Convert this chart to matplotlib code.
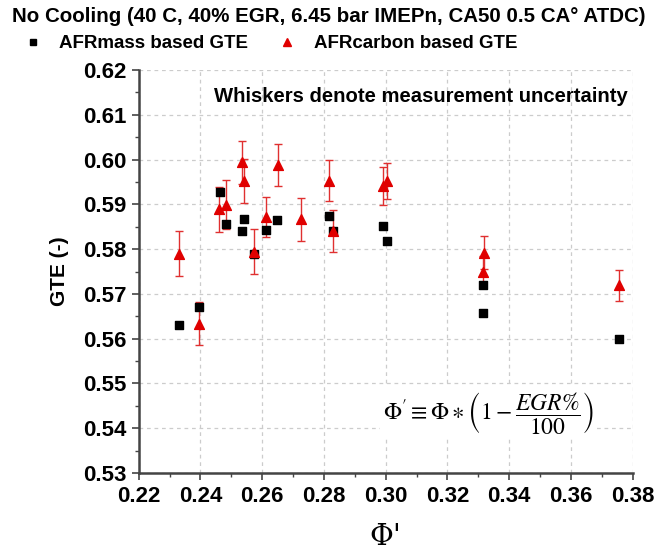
import matplotlib
matplotlib.use("Agg")
import matplotlib.pyplot as plt
from matplotlib.ticker import MultipleLocator

plt.rcParams["font.family"] = ["Liberation Sans", "DejaVu Sans"]
plt.rcParams["mathtext.fontset"] = "stix"

TITLE = "No Cooling (40 C, 40% EGR, 6.45 bar IMEPn, CA50 0.5 CA\u00b0 ATDC)"

# AFRmass based GTE (black squares)
mass_phi = [0.2331, 0.2395, 0.2463, 0.2484, 0.2536, 0.2541, 0.2573, 0.2611,
            0.2648, 0.2817, 0.2830, 0.2992, 0.3005, 0.3314, 0.3314, 0.3757]
mass_gte = [0.5630, 0.5670, 0.5927, 0.5855, 0.5841, 0.5868, 0.5790, 0.5843,
            0.5866, 0.5875, 0.5841, 0.5852, 0.5818, 0.5720, 0.5657, 0.5599]

# AFRcarbon based GTE (red triangles) with uncertainty
carb_phi = [0.2331, 0.2395, 0.2460, 0.2484, 0.2536, 0.2541, 0.2573, 0.2611, 0.2652,
            0.2725, 0.2817, 0.2830, 0.2992, 0.3005, 0.3319, 0.3316, 0.3757]
carb_gte = [0.5790, 0.5633, 0.5889, 0.5899, 0.5994, 0.5952, 0.5794, 0.5871, 0.5988,
            0.5867, 0.5953, 0.5841, 0.5941, 0.5952, 0.5792, 0.5750, 0.5719]
carb_err = [0.0050, 0.0048, 0.0050, 0.0055, 0.0048, 0.0050, 0.0050, 0.0045, 0.0047,
            0.0048, 0.0045, 0.0047, 0.0043, 0.0040, 0.0037, 0.0035, 0.0035]

fig = plt.figure(figsize=(6.58, 5.59), dpi=100)
ax = fig.add_axes([0.2108, 0.1538, 0.7508, 0.7210])

ax.errorbar(carb_phi, carb_gte, yerr=carb_err, fmt="none", ecolor="#e03030",
            elinewidth=1.0, capsize=3, capthick=1.0, zorder=3)
ax.scatter(mass_phi, mass_gte, marker="s", s=36, color="black", zorder=4)
ax.scatter(carb_phi, carb_gte, marker="^", s=50, color="#e00000", zorder=5)

ax.set_xlim(0.22, 0.38)
ax.set_ylim(0.53, 0.62)
ax.xaxis.set_major_locator(MultipleLocator(0.02))
ax.xaxis.set_minor_locator(MultipleLocator(0.01))
ax.yaxis.set_major_locator(MultipleLocator(0.01))
ax.yaxis.set_minor_locator(MultipleLocator(0.005))
ax.xaxis.set_major_formatter(lambda v, p: f"{v:.2f}")
ax.yaxis.set_major_formatter(lambda v, p: f"{v:.2f}")
ax.tick_params(axis="both", which="major", labelsize=16, length=5, width=1.2,
               color="#444444", pad=4)
ax.tick_params(axis="both", which="minor", length=3, width=1.0, color="#444444")
for lbl in ax.get_xticklabels() + ax.get_yticklabels():
    lbl.set_fontweight("bold")

ax.grid(True, which="major", linestyle=(0, (3, 3)), color="#cccccc", linewidth=0.9)
ax.set_axisbelow(True)
for side in ["top", "right"]:
    ax.spines[side].set_visible(False)
for side in ["left", "bottom"]:
    ax.spines[side].set_linewidth(1.8)
    ax.spines[side].set_color("#444444")

ax.set_ylabel("GTE (-)", fontsize=15, fontweight="bold", labelpad=10)
ax.set_xlabel("\u03a6'", fontsize=21, family="DejaVu Serif", labelpad=12)

ax.text(0.99, 0.935, "Whiskers denote measurement uncertainty", transform=ax.transAxes,
        ha="right", va="center", fontsize=14.6, fontweight="bold")
ax.text(0.4945, 0.149, r"$\Phi' \equiv \Phi \ast \left(1 - \dfrac{EGR\%}{100}\right)$",
        transform=ax.transAxes, ha="left", va="center", fontsize=17,
        bbox=dict(facecolor="white", edgecolor="none", pad=2))

fig.text(0.018, 0.971, TITLE, ha="left", va="center", fontsize=14.8, fontweight="bold")

fig.legend(handles=[
    plt.Line2D([], [], marker="s", color="black", linestyle="none", markersize=5),
    plt.Line2D([], [], marker="^", color="#e00000", linestyle="none", markersize=6),
], labels=["AFRmass based GTE", "AFRcarbon based GTE"], loc="center left",
    bbox_to_anchor=(0.01, 0.922), ncol=2, frameon=False,
    prop={"size": 13.5, "weight": "bold"},
    handlelength=1.0, handletextpad=0.9, columnspacing=1.6)

fig.savefig("out.png", dpi=100)
